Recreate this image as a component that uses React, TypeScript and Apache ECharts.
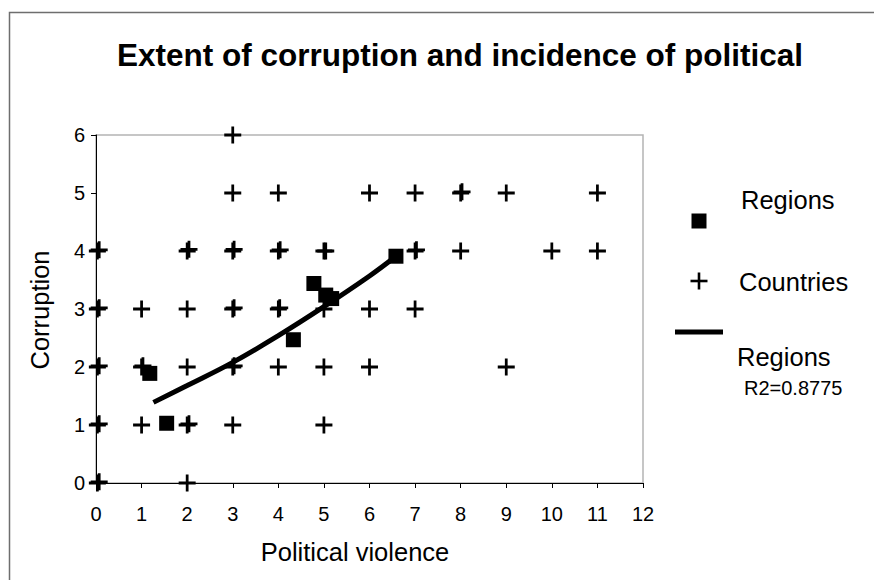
import React, { useEffect, useRef } from "react";
import * as echarts from "echarts";

const titleText = "Extent of corruption and incidence of political";
const xAxisTitle = "Political violence";
const yAxisTitle = "Corruption";
const xTicks = [0, 12, 1]; // min, max, interval
const yTicks = [0, 6, 1];

// Countries: [political violence, corruption]
const countries: number[][] = [
  [3, 6],
  [3, 5], [4, 5], [6, 5], [7, 5], [8, 5], [8.03, 5.02], [9, 5], [11, 5],
  [0.03, 4], [0.07, 4.02], [2, 4], [2.04, 4.03], [3, 4], [3.03, 4.03], [4, 4], [4.04, 4.02],
  [5, 4], [5.04, 4], [7, 4], [7.03, 4.02], [8, 4], [10, 4], [11, 4],
  [0.03, 3], [0.07, 3.02], [1, 3], [2, 3], [3, 3], [3.03, 3.02], [4, 3], [4.03, 3.02], [5, 3], [6, 3], [7, 3],
  [0.03, 2], [0.07, 2.02], [1, 2], [1.03, 2.02], [2, 2], [3, 2], [3.03, 2.02], [4, 2], [5, 2], [6, 2], [9, 2],
  [0.03, 1], [0.07, 1.02], [1, 1], [2, 1], [2.04, 1.02], [3, 1], [5, 1],
  [0.03, 0], [0.07, 0.02], [2, 0],
];

// Regions: [political violence, corruption]
const regions: number[][] = [
  [1.18, 1.89],
  [1.55, 1.03],
  [4.33, 2.47],
  [4.78, 3.44],
  [5.04, 3.24],
  [5.17, 3.18],
  [6.58, 3.91],
];

// Trend line for regions
const trendX = [1.26, 2.0, 3.0, 4.0, 5.0, 6.0, 6.58];
const trendY = [1.39, 1.68, 2.08, 2.54, 3.04, 3.57, 3.91];

const legendLabels = ["Regions", "Countries", "Regions", "R2=0.8775"];

const FONT = "'Liberation Sans', Arial, sans-serif";
const PLUS = "path://M6.7,0H9.3V6.7H16V9.3H9.3V16H6.7V9.3H0V6.7H6.7Z";

export default function App() {
  const ref = useRef<HTMLDivElement>(null);
  useEffect(() => {
    if (!ref.current) return;
    const chart = echarts.init(ref.current, null, { renderer: "svg" });
    const trend = trendX.map((x, i) => [x, trendY[i]]);
    chart.setOption({
      animation: false,
      backgroundColor: "#ffffff",
      grid: {
        left: 96,
        right: 231,
        top: 135,
        bottom: 97,
        show: true,
        borderColor: "#b4b4b4",
        borderWidth: 1.5,
        backgroundColor: "transparent",
      },
      xAxis: {
        type: "value",
        min: xTicks[0],
        max: xTicks[1],
        interval: xTicks[2],
        axisLine: { show: true, onZero: false, lineStyle: { color: "#000", width: 1 } },
        axisTick: { show: true, length: 5, inside: false, lineStyle: { color: "#000" } },
        splitLine: { show: false },
        axisLabel: { color: "#000", fontSize: 20, fontFamily: FONT, margin: 21 },
      },
      yAxis: {
        type: "value",
        min: yTicks[0],
        max: yTicks[1],
        interval: yTicks[2],
        axisLine: { show: true, onZero: false, lineStyle: { color: "#000", width: 1 } },
        axisTick: { show: true, length: 5, inside: false, lineStyle: { color: "#000" } },
        splitLine: { show: false },
        axisLabel: { color: "#000", fontSize: 20, fontFamily: FONT, margin: 11 },
      },
      series: [
        {
          name: "Countries",
          type: "scatter",
          data: countries,
          symbol: PLUS,
          symbolSize: 17,
          itemStyle: { color: "#000", opacity: 1 },
          z: 2,
        },
        {
          name: "Trend",
          type: "line",
          data: trend,
          smooth: 0.4,
          showSymbol: false,
          symbol: "none",
          lineStyle: { color: "#000", width: 5 },
          z: 3,
        },
        {
          name: "Regions",
          type: "scatter",
          data: regions,
          symbol: "rect",
          symbolSize: 15,
          itemStyle: { color: "#000", opacity: 1 },
          z: 4,
        },
      ],
      graphic: [
        {
          type: "rect",
          shape: { x: 9.5, y: 12.5, width: 1000, height: 1000 },
          style: { fill: "none", stroke: "#6e6e6e", lineWidth: 1.5 },
          silent: true,
          z: 0,
        },
        {
          type: "text",
          x: 460,
          y: 55,
          style: {
            text: titleText,
            fontSize: 31.5,
            fontWeight: "bold",
            fontFamily: FONT,
            fill: "#000",
            align: "center",
            verticalAlign: "middle",
          },
        },
        {
          type: "text",
          x: 355,
          y: 552,
          style: {
            text: xAxisTitle,
            fontSize: 25.5,
            fontFamily: FONT,
            fill: "#000",
            align: "center",
            verticalAlign: "middle",
          },
        },
        {
          type: "text",
          x: 40,
          y: 310,
          rotation: Math.PI / 2,
          style: {
            text: yAxisTitle,
            fontSize: 25.5,
            fontFamily: FONT,
            fill: "#000",
            align: "center",
            verticalAlign: "middle",
          },
        },
        // legend markers
        {
          type: "rect",
          shape: { x: 691.5, y: 213.5, width: 15, height: 15 },
          style: { fill: "#000" },
        },
        {
          type: "rect",
          shape: { x: 690.5, y: 279.7, width: 17, height: 2.6 },
          style: { fill: "#000" },
        },
        {
          type: "rect",
          shape: { x: 697.7, y: 272.5, width: 2.6, height: 17 },
          style: { fill: "#000" },
        },
        {
          type: "rect",
          shape: { x: 675, y: 329.5, width: 48, height: 5 },
          style: { fill: "#000" },
        },
        // legend texts
        {
          type: "text",
          x: 741,
          y: 200,
          style: { text: legendLabels[0], fontSize: 25.5, fontFamily: FONT, fill: "#000", verticalAlign: "middle" },
        },
        {
          type: "text",
          x: 739,
          y: 282,
          style: { text: legendLabels[1], fontSize: 25.5, fontFamily: FONT, fill: "#000", verticalAlign: "middle" },
        },
        {
          type: "text",
          x: 737,
          y: 357,
          style: { text: legendLabels[2], fontSize: 25.5, fontFamily: FONT, fill: "#000", verticalAlign: "middle" },
        },
        {
          type: "text",
          x: 744,
          y: 388,
          style: { text: legendLabels[3], fontSize: 20, fontFamily: FONT, fill: "#000", verticalAlign: "middle" },
        },
      ],
    });
    return () => chart.dispose();
  }, []);
  return (
    <div
      ref={ref}
      style={{ position: "absolute", left: 0, top: 0, width: 874, height: 580 }}
    />
  );
}
